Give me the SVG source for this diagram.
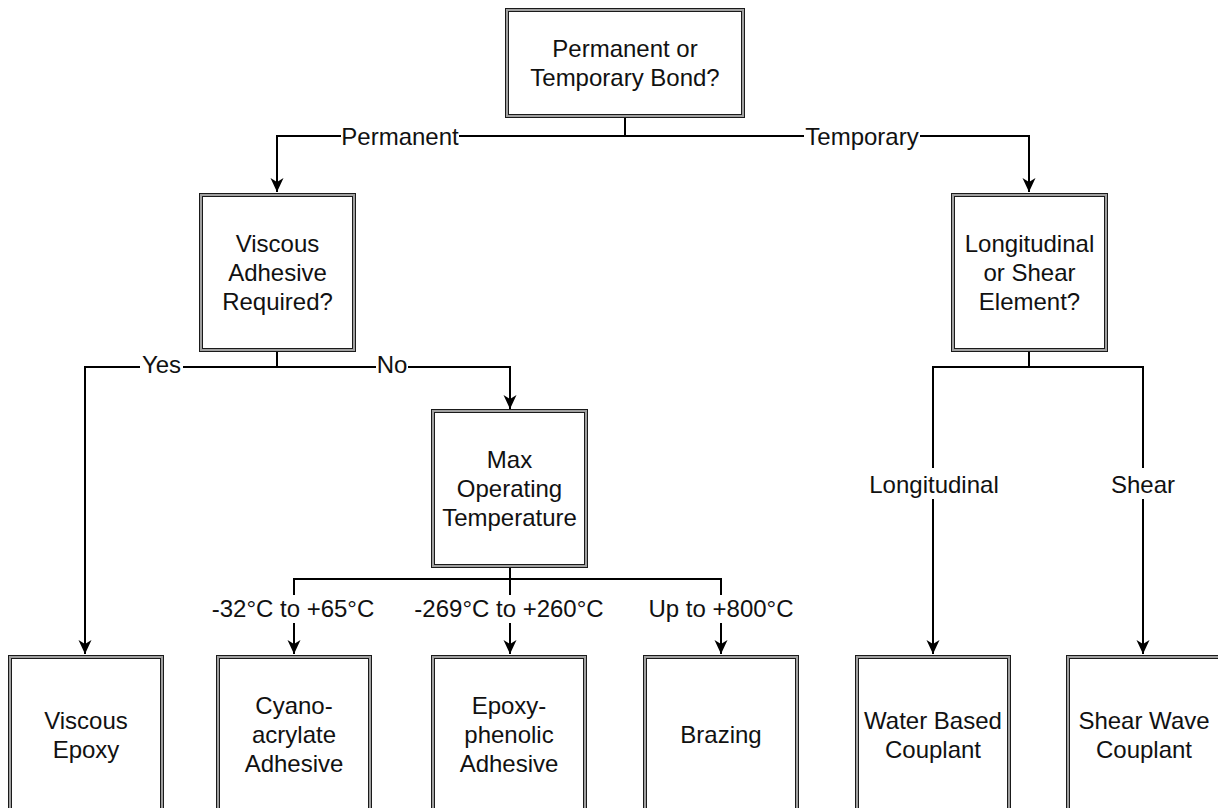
<svg xmlns="http://www.w3.org/2000/svg" width="1218" height="808" viewBox="0 0 1218 808">
<style>
.o{fill:#a0a0a0;stroke:#1a1a1a;stroke-width:1}
.i{fill:#fff;stroke:#1a1a1a;stroke-width:1}
text{font-family:"Liberation Sans",Arial,sans-serif;font-size:24px;fill:#111;text-anchor:middle}
.e{fill:none;stroke:#000;stroke-width:2}
.bg{fill:#fff}
</style>
<defs>
<marker id="a" viewBox="0 0 16 14" refX="15" refY="7" markerWidth="16" markerHeight="14" markerUnits="userSpaceOnUse" orient="auto">
<path d="M1,0.5 L15,7 L1,13.5 L5,7 Z" fill="#000"/>
</marker>
</defs>
<rect width="1218" height="808" fill="#fff"/>
<g id="connectors">
<path class="e" d="M625,117 V136 H277 V192" marker-end="url(#a)"/>
<path class="e" d="M625,136 H1029 V192" marker-end="url(#a)"/>
<path class="e" d="M277,351 V367 H85 V654" marker-end="url(#a)"/>
<path class="e" d="M277,367 H510 V409" marker-end="url(#a)"/>
<path class="e" d="M510,567 V579 H294 V654" marker-end="url(#a)"/>
<path class="e" d="M510,579 V654" marker-end="url(#a)"/>
<path class="e" d="M510,579 H721 V654" marker-end="url(#a)"/>
<path class="e" d="M1029,351 V367 H933 V654" marker-end="url(#a)"/>
<path class="e" d="M1029,367 H1143 V654" marker-end="url(#a)"/>
<rect class="bg" x="341" y="124" width="118" height="26"/>
<text x="400" y="144.5">Permanent</text>
<rect class="bg" x="804" y="124" width="116" height="26"/>
<text x="862" y="144.5">Temporary</text>
<rect class="bg" x="140" y="353" width="43" height="26"/>
<text x="161.5" y="373">Yes</text>
<rect class="bg" x="376" y="353" width="32" height="26"/>
<text x="392" y="373">No</text>
<rect class="bg" x="210" y="595" width="166" height="28"/>
<text x="293" y="617">-32°C to +65°C</text>
<rect class="bg" x="412" y="595" width="194" height="28"/>
<text x="509" y="617">-269°C to +260°C</text>
<rect class="bg" x="650" y="595" width="142" height="28"/>
<text x="721" y="617">Up to +800°C</text>
<rect class="bg" x="868" y="468" width="132" height="31"/>
<text x="934" y="492.5">Longitudinal</text>
<rect class="bg" x="1110" y="468" width="66" height="31"/>
<text x="1143" y="492.5">Shear</text>
</g>
<g id="n-top">
<rect class="o" x="505.5" y="8.5" width="239" height="109"/>
<rect class="i" x="508.5" y="11.5" width="233" height="103"/>
<text x="625" y="56.5">Permanent or</text>
<text x="625" y="85.5">Temporary Bond?</text>
</g>
<g id="n-viscous-q">
<rect class="o" x="199.5" y="193.5" width="156" height="158"/>
<rect class="i" x="202.5" y="196.5" width="150" height="152"/>
<text x="277.5" y="251.5">Viscous</text>
<text x="277.5" y="280.5">Adhesive</text>
<text x="277.5" y="309.5">Required?</text>
</g>
<g id="n-long-q">
<rect class="o" x="951.5" y="193.5" width="156" height="158"/>
<rect class="i" x="954.5" y="196.5" width="150" height="152"/>
<text x="1029.5" y="251.5">Longitudinal</text>
<text x="1029.5" y="280.5">or Shear</text>
<text x="1029.5" y="309.5">Element?</text>
</g>
<g id="n-max">
<rect class="o" x="431.5" y="409.5" width="156" height="158"/>
<rect class="i" x="434.5" y="412.5" width="150" height="152"/>
<text x="509.5" y="467.5">Max</text>
<text x="509.5" y="496.5">Operating</text>
<text x="509.5" y="525.5">Temperature</text>
</g>
<g id="n-viscous-epoxy">
<rect class="o" x="8.5" y="655.5" width="155" height="159"/>
<rect class="i" x="11.5" y="658.5" width="149" height="153"/>
<text x="86" y="728.5">Viscous</text>
<text x="86" y="757.5">Epoxy</text>
</g>
<g id="n-cyano">
<rect class="o" x="216.5" y="655.5" width="155" height="159"/>
<rect class="i" x="219.5" y="658.5" width="149" height="153"/>
<text x="294" y="714">Cyano-</text>
<text x="294" y="743">acrylate</text>
<text x="294" y="772">Adhesive</text>
</g>
<g id="n-epoxy-phenolic">
<rect class="o" x="431.5" y="655.5" width="155" height="159"/>
<rect class="i" x="434.5" y="658.5" width="149" height="153"/>
<text x="509" y="714">Epoxy-</text>
<text x="509" y="743">phenolic</text>
<text x="509" y="772">Adhesive</text>
</g>
<g id="n-brazing">
<rect class="o" x="643.5" y="655.5" width="155" height="159"/>
<rect class="i" x="646.5" y="658.5" width="149" height="153"/>
<text x="721" y="743">Brazing</text>
</g>
<g id="n-water">
<rect class="o" x="855.5" y="655.5" width="155" height="159"/>
<rect class="i" x="858.5" y="658.5" width="149" height="153"/>
<text x="933" y="728.5">Water Based</text>
<text x="933" y="757.5">Couplant</text>
</g>
<g id="n-shear">
<rect class="o" x="1066.5" y="655.5" width="155" height="159"/>
<rect class="i" x="1069.5" y="658.5" width="149" height="153"/>
<text x="1144" y="728.5">Shear Wave</text>
<text x="1144" y="757.5">Couplant</text>
</g>
</svg>
